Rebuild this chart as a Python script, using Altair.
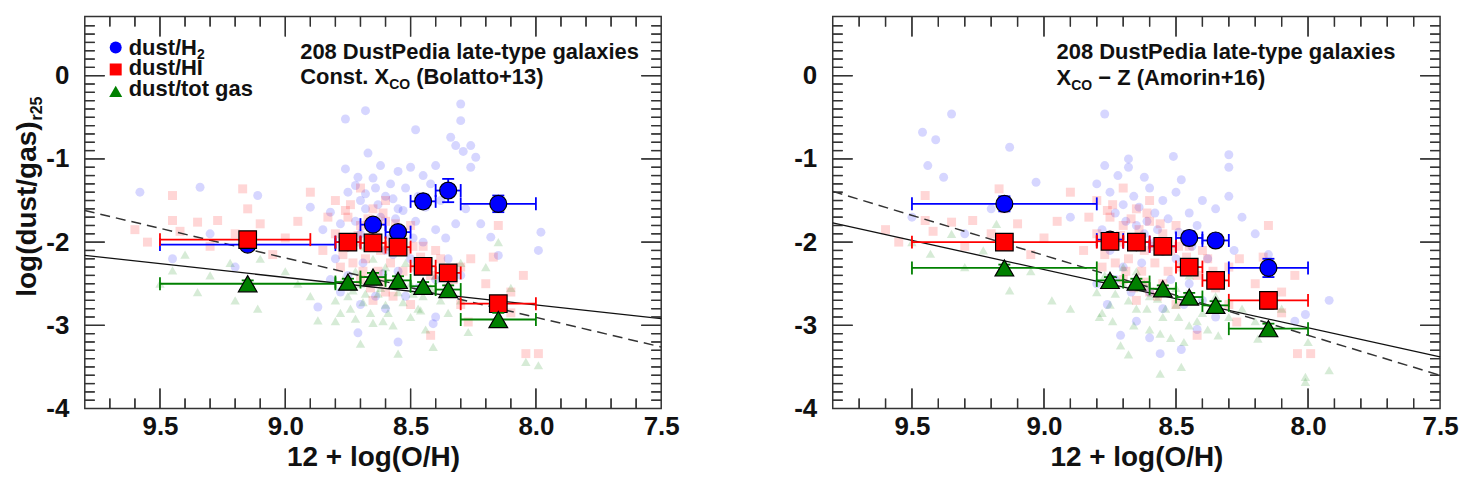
import altair as alt
import pandas as pd

FONT = "Liberation Sans"
BLUE, RED, GREEN = "#0000ff", "#ff0000", "#008000"
INK = "#111111"
TC = "#333333"

# ---------------- binned values (centre, x-range) ----------------
BIN_X = [9.15, 8.75, 8.65, 8.55, 8.45, 8.35, 8.15]
BIN_LO = [9.5, 8.8, 8.7, 8.6, 8.5, 8.4, 8.3]
BIN_HI = [8.8, 8.7, 8.6, 8.5, 8.4, 8.3, 8.0]
L_HI_BIN_HI = [8.9, 8.7, 8.6, 8.5, 8.4, 8.3, 8.0]

# left panel: constant X_CO
L_H2 = [-2.03, -2.00, -1.79, -1.88, -1.51, -1.38, -1.54]
L_H2_E = [0.04, 0.04, 0.05, 0.05, 0.08, 0.14, 0.10]
L_HI = [-1.97, -2.00, -2.01, -2.06, -2.29, -2.37, -2.74]
L_HI_E = [0.04, 0.05, 0.05, 0.05, 0.05, 0.05, 0.07]
L_TOT = [-2.50, -2.48, -2.42, -2.46, -2.53, -2.57, -2.93]
L_TOT_E = [0.04, 0.04, 0.05, 0.05, 0.05, 0.05, 0.08]

# right panel: X_CO - Z
R_H2 = [-1.54, -1.97, -2.00, -2.05, -1.95, -1.98, -2.31]
R_H2_E = [0.09, 0.05, 0.05, 0.05, 0.08, 0.07, 0.11]
R_HI = [-2.00, -1.99, -2.00, -2.05, -2.30, -2.46, -2.70]
R_HI_E = [0.04, 0.05, 0.05, 0.05, 0.06, 0.07, 0.10]
R_TOT = [-2.31, -2.46, -2.48, -2.56, -2.66, -2.76, -3.04]
R_TOT_E = [0.04, 0.04, 0.04, 0.04, 0.05, 0.05, 0.06]

# fit lines (end points)
FIT_X = [9.8, 7.5]
L_SOLID = [-2.16, -2.92]
L_DASH = [-1.62, -3.26]
R_SOLID = [-1.77, -3.38]
R_DASH = [-1.39, -3.60]

# ---------------- individual galaxies (faint points) ----------------
FB_L_X = [8.76, 8.68, 8.48, 8.30, 8.30, 8.34, 8.32, 8.26, 8.29, 8.67, 8.24,
          8.76, 8.71, 8.65, 8.62, 8.55, 8.50, 8.45, 8.40, 8.26,
          9.34, 9.11, 9.58, 8.90, 8.82, 8.58, 8.52, 8.42, 8.38, 8.60, 8.70, 8.75, 8.68, 8.62, 8.55, 8.48,
          8.40, 8.32, 8.22, 8.18, 8.15, 7.99, 7.98,
          8.70, 8.60, 8.50, 8.45, 8.80, 8.75, 8.65, 8.55, 8.35, 8.40, 9.30, 9.20, 9.45, 8.85, 8.72, 8.66,
          8.58, 8.64, 8.56,
          8.87, 8.71, 8.55, 8.41, 8.40, 8.60, 8.70, 8.78, 8.52, 8.30,
          8.72, 8.68, 8.63, 8.57, 8.53, 8.47, 8.44, 8.36, 8.78, 8.74, 8.69, 8.61, 8.57, 8.49, 8.43, 8.36,
          8.28, 8.82, 8.64, 8.47]
FB_L_Y = [-0.52, -0.42, -0.65, -0.34, -0.54, -0.74, -0.84, -0.84, -0.91, -0.93, -0.98,
          -1.12, -1.22, -1.23, -1.08, -1.15, -1.10, -1.20, -1.08, -1.10,
          -1.34, -1.44, -1.40, -1.58, -1.64, -1.30, -1.35, -1.30, -1.50, -1.45, -1.50, -1.40, -1.60, -1.70, -1.60, -1.75,
          -1.85, -1.78, -1.78, -1.94, -2.16, -2.10, -1.88,
          -1.90, -2.10, -2.20, -2.00, -2.20, -2.40, -2.50, -2.35, -2.20, -2.45, -1.90, -2.30, -2.20, -1.85, -1.75, -2.05,
          -1.95, -1.35, -1.72,
          -2.78, -3.09, -3.20, -2.98, -2.90, -2.80, -2.75, -2.60, -2.65, -2.40,
          -1.32, -1.42, -1.55, -1.48, -1.62, -1.45, -1.58, -1.35, -1.78, -2.05, -2.25, -2.38, -2.15, -1.95, -2.30, -1.95,
          -1.60, -2.45, -2.65, -2.55]

FR_X = [9.45, 9.17, 8.90, 9.45, 9.35, 9.27, 9.10, 9.42, 9.60, 9.55, 9.30, 9.20, 9.00, 9.05, 9.15, 8.95,
        8.80, 8.75, 8.70, 8.65, 8.60, 8.55, 8.50, 8.72, 8.68, 8.62, 8.58, 8.52, 8.48, 8.45, 8.42, 8.38,
        8.35, 8.30, 8.78, 8.70, 8.60, 8.55, 8.65, 8.50, 8.80, 8.85, 8.66, 8.74, 8.57, 8.63, 8.70, 8.60,
        8.15, 8.17, 8.26, 8.20, 8.10, 8.05, 8.27, 8.42, 8.04, 7.99, 8.30, 8.10,
        8.76, 8.71, 8.67, 8.64, 8.61, 8.59, 8.56, 8.53, 8.49, 8.46, 8.77, 8.73, 8.69, 8.62, 8.57, 8.66,
        8.83, 8.40, 8.36, 8.33]
FR_Y = [-1.44, -1.36, -1.40, -1.74, -1.76, -1.74, -1.78, -1.87, -1.85, -2.00, -2.05, -1.90, -1.95, -2.15, -1.60, -1.75,
        -1.50, -1.70, -1.80, -1.60, -1.75, -1.90, -1.80, -2.00, -2.20, -2.10, -2.25, -2.10, -2.30, -2.05, -2.40, -2.20,
        -2.55, -2.30, -2.30, -2.45, -2.60, -2.50, -2.70, -2.75, -1.90, -2.10, -1.95, -1.55, -2.00, -2.35, -1.35, -1.50,
        -1.80, -2.18, -2.20, -2.50, -2.60, -2.40, -2.96, -3.12, -3.34, -3.34, -2.75, -2.85,
        -1.62, -1.92, -1.72, -1.85, -1.65, -2.05, -1.78, -2.35, -2.05, -2.18, -2.15, -2.25, -2.35, -2.48, -2.65, -2.55,
        -1.70, -2.10, -2.35, -2.45]

FG_L_X = [9.45, 9.30, 9.22, 9.10, 9.00, 9.50, 9.35, 9.11, 9.20, 9.40,
          8.87, 8.80, 8.72, 8.65, 8.70, 8.55, 8.47, 8.41, 8.27, 8.04, 7.99,
          8.15, 8.20, 8.10, 8.30, 8.35, 8.45, 8.50, 8.55, 8.60, 8.65, 8.70, 8.75, 8.80, 8.60, 8.50,
          8.58, 8.68, 8.90, 8.95, 8.40, 8.30, 8.62, 8.72, 8.52, 8.78, 8.57, 8.44, 8.66,
          8.77, 8.73, 8.69, 8.66, 8.63, 8.59, 8.56, 8.53, 8.49, 8.46, 8.42, 8.38, 8.74, 8.68, 8.61]
FG_L_Y = [-2.34, -2.40, -2.25, -2.20, -2.35, -2.50, -2.60, -2.80, -2.70, -2.15,
          -2.94, -2.95, -2.92, -2.97, -3.22, -3.34, -2.80, -3.26, -3.08, -3.44, -3.48,
          -2.00, -2.30, -2.55, -2.70, -2.85, -2.65, -2.50, -2.60, -2.30, -2.20, -2.50, -2.65, -2.70, -2.75, -2.90,
          -2.05, -2.05, -2.65, -2.50, -2.40, -2.25, -2.55, -2.35, -2.25, -2.85, -3.00, -3.05, -2.85,
          -2.45, -2.58, -2.72, -2.40, -2.62, -2.85, -2.42, -2.72, -2.62, -2.82, -2.55, -2.70, -2.80, -2.62, -2.95]

FB_R_X = [9.35, 8.77, 9.46, 9.41, 9.13, 9.44, 8.77, 8.68, 8.68, 8.51, 8.30, 8.30, 9.38, 9.03,
          8.80, 8.75, 8.70, 8.62, 8.60, 8.55, 8.50, 8.45, 8.40, 8.35, 8.30, 8.25, 8.20, 8.15, 8.72, 8.66,
          8.58, 8.48, 8.42, 8.62,
          7.92, 8.01, 8.71, 8.56, 8.48, 8.65, 8.58, 8.50, 8.70, 8.60, 8.55, 8.45, 8.40, 8.35, 8.65, 8.80,
          8.75, 9.20, 9.30, 9.50, 8.90, 8.05,
          8.73, 8.69, 8.64, 8.61, 8.57, 8.53, 8.49, 8.44, 8.38, 8.78, 8.73, 8.67, 8.63, 8.52, 8.47, 8.42,
          8.60, 8.76, 8.33, 8.28]
FB_R_Y = [-0.46, -0.46, -0.68, -0.77, -0.86, -1.08, -1.08, -1.00, -1.10, -0.97, -0.95, -1.10, -1.22, -1.28,
          -1.30, -1.40, -1.55, -1.22, -1.35, -1.50, -1.40, -1.65, -1.50, -1.60, -1.45, -1.70, -1.90, -2.15, -1.20, -1.45,
          -1.65, -1.25, -1.80, -1.90,
          -2.70, -2.87, -3.12, -3.34, -3.29, -1.80, -2.00, -2.20, -2.30, -2.60, -2.80, -2.50, -2.70, -2.90, -2.95, -2.50,
          -2.10, -1.60, -1.90, -1.70, -1.70, -2.95,
          -1.65, -1.75, -1.58, -1.75, -1.85, -1.72, -1.88, -2.05, -2.20, -1.85, -2.45, -2.60, -2.25, -2.45, -2.75, -3.05,
          -3.15, -2.75, -2.45, -2.10]

FG_R_X = [9.43, 9.23, 9.18, 9.13, 8.97, 9.35, 9.50, 9.30, 9.05,
          8.79, 8.71, 8.56, 8.48, 8.01, 8.01, 7.92, 8.34, 8.19,
          8.80, 8.75, 8.70, 8.65, 8.60, 8.55, 8.50, 8.45, 8.40, 8.35, 8.30, 8.25, 8.20, 8.60, 8.70, 8.65,
          8.50, 8.45, 8.15, 8.10, 8.00, 8.90, 8.62, 8.74, 8.52, 8.68,
          8.77, 8.73, 8.68, 8.64, 8.61, 8.57, 8.54, 8.49, 8.46, 8.42, 8.38, 8.78, 8.66, 8.56, 8.47]
FG_R_Y = [-2.14, -2.10, -1.78, -2.58, -2.70, -1.90, -2.00, -2.30, -2.35,
          -2.90, -3.24, -3.58, -3.50, -3.62, -3.68, -3.54, -3.12, -3.16,
          -2.60, -2.75, -2.50, -2.80, -2.65, -2.90, -2.75, -3.00, -2.85, -2.65, -2.90, -2.80, -2.95, -3.05, -2.30, -2.35,
          -2.55, -2.40, -3.00, -2.80, -3.20, -2.80, -2.50, -2.95, -3.15, -3.35,
          -2.40, -2.62, -2.70, -2.55, -2.80, -2.68, -2.80, -2.90, -2.62, -2.95, -3.05, -2.85, -3.00, -3.10, -3.20]

# ---------------- axes ----------------
X_LABELS = [9.5, 9.0, 8.5, 8.0, 7.5]
Y_LABELS = [0, -1, -2, -3, -4]
X_MAJOR = [9.5, 9.0, 8.5, 8.0]
X_MINOR = [9.7, 9.6, 9.4, 9.3, 9.2, 9.1, 8.9, 8.8, 8.7, 8.6, 8.4, 8.3, 8.2, 8.1, 7.9, 7.8, 7.7, 7.6]
Y_MAJOR = [0, -1, -2, -3]
Y_MINOR = [0.6, 0.5, 0.4, 0.3, 0.2, 0.1,
           -0.1, -0.2, -0.3, -0.4, -0.5, -0.6, -0.7, -0.8, -0.9,
           -1.1, -1.2, -1.3, -1.4, -1.5, -1.6, -1.7, -1.8, -1.9,
           -2.1, -2.2, -2.3, -2.4, -2.5, -2.6, -2.7, -2.8, -2.9,
           -3.1, -3.2, -3.3, -3.4, -3.5, -3.6, -3.7, -3.8, -3.9]
X_EDGES = [9.8, 7.5]
Y_EDGES = [-4.0, 0.71]

H = 393

# Arial/Liberation Sans Bold advance widths (per 1000 em)
AW = {' ': 278, '(': 333, ')': 333, '+': 584, '-': 333, '.': 278, '/': 278, 'A': 722, 'B': 722,
      'C': 722, 'D': 722, 'H': 722, 'I': 278, 'O': 778, 'P': 667, 'X': 667, 'Z': 611, 'a': 556,
      'b': 611, 'c': 556, 'd': 611, 'e': 556, 'g': 611, 'i': 278, 'l': 278, 'm': 889, 'n': 611,
      'o': 611, 'p': 611, 'r': 389, 's': 556, 't': 333, 'u': 611, 'x': 556, 'y': 556, '\u2212': 584}


def tw(s, size):
    return sum(AW.get(c, 556) for c in s) * size / 1000.0


XS = alt.Scale(domain=[X_EDGES[1], X_EDGES[0]], reverse=True, nice=False, zero=False)
YS = alt.Scale(domain=Y_EDGES, nice=False, zero=False)

XAX = alt.Axis(values=X_LABELS, format=".1f", ticks=False, tickSize=0, domain=False, grid=False,
               labelFont=FONT, labelFontSize=26, labelFontWeight="bold", labelColor=INK,
               labelPadding=5, labelFlush=False, labelOverlap=False,
               title="12 + log(O/H)", titleFont=FONT, titleFontSize=28, titleFontWeight="bold",
               titleColor=INK, titlePadding=4)
YAX = alt.Axis(values=Y_LABELS, labelExpr="datum.value == 0 ? '0' : '-' + abs(datum.value)",
               ticks=False, tickSize=0, domain=False, grid=False,
               labelFont=FONT, labelFontSize=26, labelFontWeight="bold", labelColor=INK,
               labelPadding=16, labelFlush=False, labelOverlap=False, title=None)


def X(f):
    return alt.X(f"{f}:Q", scale=XS, axis=XAX)


def Y(f):
    return alt.Y(f"{f}:Q", scale=YS, axis=YAX)


def txt(s, x, y, size=22, angle=0, align="left"):
    return alt.Chart(pd.DataFrame({"label": [s]})).mark_text(
        font=FONT, fontSize=size, fontWeight="bold", color=INK, align=align,
        baseline="middle", angle=angle).encode(x=alt.value(x), y=alt.value(y), text="label:N")


def series_layers(ys, es, lo, hi, color, shape, size):
    d = pd.DataFrame({"x": BIN_X, "y": ys, "lo": lo, "hi": hi,
                      "ylo": [a - b for a, b in zip(ys, es)], "yhi": [a + b for a, b in zip(ys, es)]})
    base = alt.Chart(d)
    sw = 1.8
    return [
        base.mark_rule(color=color, strokeWidth=sw).encode(x=X("lo"), x2="hi", y=Y("y")),
        base.transform_fold(["lo", "hi"], as_=["k", "xc"]).mark_rule(
            color=color, strokeWidth=sw, yOffset=-6.5, y2Offset=6.5).encode(x=X("xc"), y=Y("y"), y2="y"),
        base.mark_rule(color=color, strokeWidth=sw).encode(x=X("x"), y=Y("ylo"), y2="yhi"),
        base.transform_fold(["ylo", "yhi"], as_=["k", "yc"]).mark_rule(
            color=color, strokeWidth=sw, xOffset=-6, x2Offset=6).encode(x=X("x"), x2="x", y=Y("yc")),
        base.mark_point(shape=shape, filled=True, size=size, color=color, opacity=1,
                        stroke="black", strokeWidth=1.2).encode(x=X("x"), y=Y("y")),
    ]


def tick_segments(W):
    """Frame ticks (pointing inwards) as short line segments: one detail group per tick."""
    pxx = W / (X_EDGES[0] - X_EDGES[1])
    pxy = H / (Y_EDGES[1] - Y_EDGES[0])
    lx, ly, lid = [], [], []
    k = 0
    for vals, L in [(X_MINOR, 10), (X_MAJOR, 20)]:
        for v in vals:
            lx += [v, v]
            ly += [Y_EDGES[0], Y_EDGES[0] + L / pxy]
            lid += [k, k]
            k += 1
            lx += [v, v]
            ly += [Y_EDGES[1], Y_EDGES[1] - L / pxy]
            lid += [k, k]
            k += 1
    for vals, L in [(Y_MINOR, 10), (Y_MAJOR, 20)]:
        for v in vals:
            ly += [v, v]
            lx += [X_EDGES[0], X_EDGES[0] - L / pxx]
            lid += [k, k]
            k += 1
            ly += [v, v]
            lx += [X_EDGES[1], X_EDGES[1] + L / pxx]
            lid += [k, k]
            k += 1
    d = pd.DataFrame({"lx": lx, "ly": ly, "lid": lid})
    return alt.Chart(d).mark_line(color=TC, strokeWidth=1.3).encode(
        x=X("lx"), y=Y("ly"), detail="lid:N")


def tick_symbols():
    """Same ticks drawn a second way: stroked custom-path symbols anchored on the frame."""
    out = []
    specs = []
    for vals, L in [(X_MINOR, 10), (X_MAJOR, 20)]:
        specs.append((vals, [Y_EDGES[0]] * len(vals), "M0,0L0,-1", L, "x"))
        specs.append((vals, [Y_EDGES[1]] * len(vals), "M0,0L0,1", L, "x"))
    for vals, L in [(Y_MINOR, 10), (Y_MAJOR, 20)]:
        specs.append((vals, [X_EDGES[0]] * len(vals), "M0,0L1,0", L, "y"))
        specs.append((vals, [X_EDGES[1]] * len(vals), "M0,0L-1,0", L, "y"))
    for vals, edge, path, L, kind in specs:
        if kind == "x":
            d = pd.DataFrame({"sx": vals, "sy": edge})
        else:
            d = pd.DataFrame({"sx": edge, "sy": vals})
        out.append(alt.Chart(d).mark_point(shape=path, filled=False, size=(2 * L) ** 2, color=TC,
                                           strokeWidth=1.3, opacity=1).encode(x=X("sx"), y=Y("sy")))
    return out


def faint(xs, ys, shape, color, size):
    return alt.Chart(pd.DataFrame({"x": xs, "y": ys})).mark_point(
        shape=shape, filled=True, size=size, color=color, opacity=0.16, strokeWidth=0).encode(x=X("x"), y=Y("y"))


def fit(ys, dash):
    m = alt.Chart(pd.DataFrame({"x": FIT_X, "y": ys}))
    if dash:
        return m.mark_line(color="#333", strokeWidth=1.5, strokeDash=[10, 6]).encode(x=X("x"), y=Y("y"))
    return m.mark_line(color="#111", strokeWidth=1.3).encode(x=X("x"), y=Y("y"))


def panel(W, fb, fr, fg, solid, dash, h2, hi, tot, hi_hi, note_x, note2):
    layers = [faint(fb[0], fb[1], "circle", BLUE, 81),
              faint(fr[0], fr[1], "square", RED, 81),
              faint(fg[0], fg[1], "triangle-up", GREEN, 90),
              fit(solid, False), fit(dash, True)]
    layers += series_layers(h2[0], h2[1], BIN_LO, BIN_HI, BLUE, "circle", 289)
    layers += series_layers(hi[0], hi[1], BIN_LO, hi_hi, RED, "square", 310)
    layers += series_layers(tot[0], tot[1], BIN_LO, BIN_HI, GREEN, "triangle-up", 350)
    layers.append(txt("208 DustPedia late-type galaxies", note_x, 35))
    layers += note2
    return layers


SP22 = tw(" ", 22)

# ---------- left panel ----------
NX_L = 216
s_a = "Const. X"
l2 = [txt(s_a, NX_L, 61),
      txt("CO", NX_L + tw(s_a, 22), 69, size=14),
      txt("(Bolatto+13)", NX_L + tw(s_a, 22) + tw("CO", 14) + SP22, 61)]

left_layers = panel(578, (FB_L_X, FB_L_Y), (FR_X, FR_Y), (FG_L_X, FG_L_Y), L_SOLID, L_DASH,
                    (L_H2, L_H2_E), (L_HI, L_HI_E), (L_TOT, L_TOT_E), L_HI_BIN_HI, NX_L, l2)

# legend
one = pd.DataFrame({"a": [0]})
left_layers.append(alt.Chart(one).mark_point(shape="circle", filled=True, size=144, color=BLUE, opacity=1)
                   .encode(x=alt.value(31), y=alt.value(31)))
left_layers.append(alt.Chart(one).mark_point(shape="square", filled=True, size=144, color=RED, opacity=1)
                   .encode(x=alt.value(31), y=alt.value(53)))
left_layers.append(alt.Chart(one).mark_point(shape="triangle-up", filled=True, size=170, color=GREEN, opacity=1)
                   .encode(x=alt.value(31), y=alt.value(75)))
left_layers.append(txt("dust/H", 44, 31))
left_layers.append(txt("2", 44 + tw("dust/H", 22), 38, size=14))
left_layers.append(txt("dust/HI", 44, 52))
left_layers.append(txt("dust/tot gas", 44, 73))

# y title with subscript
MAIN_T = "log(dust/gas)"
left_layers.append(txt(MAIN_T, -57, 193, size=28, angle=270, align="center"))
left_layers.append(txt("r25", -48, 193 - tw(MAIN_T, 28) / 2 - 13, size=16, angle=270, align="center"))
left_layers.append(tick_segments(578))
left_layers += tick_symbols()

# ---------- right panel ----------
NX_R = 224.5
r2 = [txt("X", NX_R, 62),
      txt("CO", NX_R + tw("X", 22), 70, size=14),
      txt("\u2212 Z (Amorin+16)", NX_R + tw("X", 22) + tw("CO", 14) + SP22, 62)]

right_layers = panel(609, (FB_R_X, FB_R_Y), (FR_X, FR_Y), (FG_R_X, FG_R_Y), R_SOLID, R_DASH,
                     (R_H2, R_H2_E), (R_HI, R_HI_E), (R_TOT, R_TOT_E), BIN_HI, NX_R, r2)
right_layers.append(tick_segments(609))
right_layers += tick_symbols()

left = alt.layer(*left_layers).properties(width=578, height=H)
right = alt.layer(*right_layers).properties(width=609, height=H)

chart = alt.hconcat(left, right, spacing=172, bounds="flush").properties(
    padding={"left": 5, "top": 4, "right": 5, "bottom": 5}
).configure_view(stroke="#333", strokeWidth=1.5)

chart.save("out.html", embed_options={"renderer": "svg", "actions": False})
